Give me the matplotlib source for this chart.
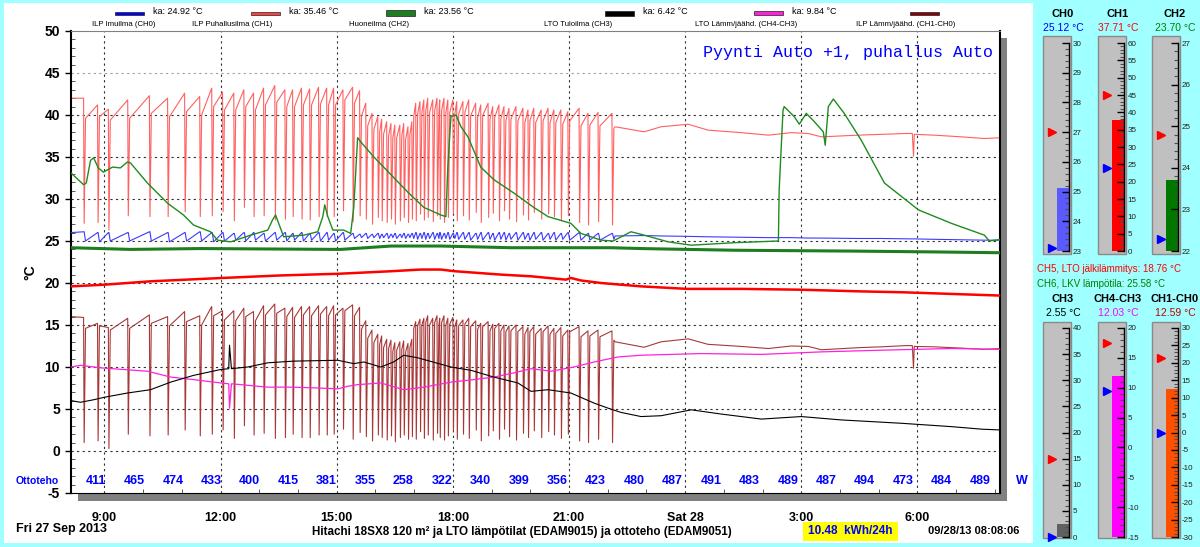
import matplotlib
matplotlib.use("Agg")
import numpy as np
import matplotlib.pyplot as plt
from matplotlib.patches import Rectangle
from matplotlib.ticker import MultipleLocator

plt.rcParams['font.family'] = ['Liberation Sans', 'DejaVu Sans']
plt.rcParams['axes.unicode_minus'] = False

# ---------------- data (hours of day, 24 = midnight) ----------------
T0, T1 = 8.135, 32.135

# compressor cycles of the heat pump: time of each drop, CH1 level before drop,
# CH1 bottom, CH1 level after the fast recovery, CH0 high / low around the drop
drop_t = [8.46, 8.82, 9.10, 9.60, 10.16, 10.63, 11.07, 11.46, 11.77, 12.05, 12.34, 12.60,
          12.85, 13.11, 13.40, 13.66, 13.86, 14.09, 14.30, 14.53, 14.74, 14.92, 15.16,
          15.41, 15.59, 15.75, 15.91, 16.06, 16.16, 16.29, 16.40, 16.50, 16.63, 16.73, 16.84,
          16.94, 17.04, 17.15, 17.25, 17.35, 17.48, 17.59, 17.66, 17.77, 17.87, 18.00, 18.10,
          18.26, 18.41, 18.59, 18.72, 18.91, 19.03, 19.19, 19.32, 19.45, 19.63, 19.81, 19.94,
          20.09, 20.28, 20.46, 20.61, 20.79, 20.97, 21.26, 21.49, 21.75, 22.11]
ch1_pk = [42.0, 41.2, 40.7, 41.8, 42.3, 42.0, 42.6, 42.2, 43.2, 42.7, 42.6, 43.0,
          42.6, 43.2, 43.5, 43.0, 43.0, 43.2, 43.1, 43.3, 43.2, 43.2, 43.0,
          43.3, 42.9, 41.4, 40.2, 39.8, 39.5, 39.2, 39.0, 38.8, 38.8, 39.0, 38.6,
          39.2, 41.4, 41.6, 41.8, 42.0, 41.8, 42.0, 41.8, 42.0, 41.8, 41.8, 41.6,
          41.6, 41.8, 41.4, 41.2, 41.4, 41.0, 41.2, 41.0, 40.8, 41.0, 40.8, 40.6,
          40.8, 40.6, 40.8, 40.6, 40.6, 40.4, 40.8, 40.2, 40.3, 40.2]
ch1_lo = [27.1, 27.2, 26.3, 28.0, 27.9, 27.9, 28.5, 27.9, 28.0, 28.5, 27.4, 29.0,
          27.9, 28.0, 27.5, 27.6, 27.9, 27.6, 27.5, 27.9, 27.9, 27.9, 28.6,
          27.3, 28.0, 27.6, 27.0, 27.8, 27.4, 27.2, 27.6, 27.0, 27.4, 27.8, 27.2,
          27.6, 27.4, 28.2, 27.5, 27.8, 27.3, 28.0, 27.6, 27.2, 27.8, 28.3, 27.4,
          28.0, 27.5, 28.4, 27.2, 27.8, 28.3, 27.4, 28.6, 27.6, 27.3, 28.1, 27.5,
          28.4, 27.6, 28.2, 27.9, 27.4, 28.0, 27.2, 26.9, 27.3, 26.9]
ch1_rec = [39.6, 39.8, 39.4, 39.6, 40.2, 39.8, 40.4, 40.0, 41.0, 40.6, 40.6, 41.0,
           40.6, 41.2, 41.5, 41.0, 41.0, 41.2, 41.2, 41.3, 41.2, 41.2, 41.8,
           41.4, 39.9, 38.7, 38.3, 38.0, 37.7, 37.5, 37.3, 37.3, 37.5, 37.1, 37.7,
           39.9, 40.1, 40.3, 40.5, 40.3, 40.5, 40.3, 40.5, 40.3, 40.3, 40.1, 40.1,
           40.3, 39.9, 39.7, 39.9, 39.5, 39.7, 39.5, 39.3, 39.5, 39.3, 39.1, 39.3,
           39.1, 39.3, 39.1, 39.1, 38.9, 39.3, 38.7, 38.8, 38.7, 38.4]
ch0_hi = [26.1, 26.0, 26.0, 26.0, 26.1, 26.0, 26.0, 26.1, 26.0, 26.0, 25.9, 26.0,
          26.0, 25.9, 26.0, 26.0, 25.9, 26.0, 25.9, 26.0, 26.0, 25.9, 26.0,
          25.9, 25.8, 25.9, 25.8, 25.9, 25.8, 25.9, 25.8, 25.9, 25.8, 25.9, 25.8,
          25.9, 26.0, 25.9, 26.0, 25.9, 26.0, 25.9, 26.0, 25.9, 26.0, 25.9, 26.0,
          26.0, 26.0, 25.9, 26.0, 26.0, 25.9, 26.0, 26.0, 25.9, 26.0, 26.0, 25.9,
          26.0, 26.0, 25.9, 26.0, 25.9, 26.0, 26.0, 25.9, 25.9, 25.9]
ch0_lo = [25.0, 24.9, 25.0, 25.0, 25.0, 24.9, 25.0, 25.0, 24.9, 25.0, 25.1, 25.0,
          25.1, 25.0, 25.1, 25.0, 25.1, 25.0, 25.1, 25.0, 25.1, 25.0, 25.1,
          25.3, 25.4, 25.3, 25.4, 25.3, 25.4, 25.3, 25.4, 25.3, 25.4, 25.3, 25.4,
          25.3, 25.2, 25.3, 25.2, 25.3, 25.2, 25.3, 25.2, 25.3, 25.2, 25.3, 25.2,
          25.2, 25.1, 25.2, 25.1, 25.2, 25.1, 25.2, 25.1, 25.2, 25.1, 25.2, 25.1,
          25.2, 25.1, 25.2, 25.1, 25.2, 25.1, 25.1, 25.1, 25.1, 25.2]
ch1_start, ch0_start = 42.0, 26.0

# steady running after ~22:10
steady_t = [22.19, 22.94, 23.38, 24.08, 24.59, 25.45, 26.15, 26.74, 27.18, 27.52,
            28.47, 29.07, 29.72, 29.87, 29.90, 29.92, 30.44, 31.14, 31.73, 32.17]
ch1_steady = [38.6, 38.0, 38.6, 38.9, 38.2, 37.9, 37.6, 37.9, 37.8, 37.4,
              37.6, 37.7, 37.8, 37.8, 35.1, 37.7, 37.6, 37.4, 37.2, 37.3]
ch0_steady = [25.6, 25.65, 25.6, 25.55, 25.5, 25.45, 25.4, 25.4, 25.35, 25.35,
              25.3, 25.3, 25.25, 25.25, 25.25, 25.25, 25.2, 25.15, 25.1, 25.1]

# CH6 LKV lampotila (thin green)
ch6_t = [8.135, 8.46, 8.53, 8.64, 8.72, 8.84, 8.97, 9.21, 9.41, 9.59, 9.67, 10.11, 10.63,
         11.04, 11.30, 11.74, 11.92, 12.26, 12.78, 13.22, 13.34, 13.42, 13.50, 13.63, 14.15,
         14.51, 14.64, 14.69, 14.77, 14.90, 15.18, 15.36, 15.44, 15.54, 15.62, 15.96, 16.40,
         16.84, 17.25, 17.69, 17.82, 17.87, 17.95, 18.08, 18.21, 18.39, 18.72, 19.06, 19.58,
         20.09, 20.46, 21.05, 21.31, 21.83, 22.14, 22.60, 22.94, 23.56, 24.16, 25.27, 26.41,
         26.43, 26.53, 26.56, 26.82, 26.95, 27.13, 27.34, 27.57, 27.62, 27.70, 27.83, 28.11,
         28.55, 29.15, 30.03, 30.88, 31.73, 31.86, 32.17]
ch6_v = [33.1, 31.7, 31.9, 34.6, 34.9, 33.7, 33.2, 33.8, 33.7, 34.4, 34.3, 31.9, 29.5,
         28.1, 26.9, 26.1, 25.1, 24.9, 25.7, 26.3, 27.5, 28.1, 27.1, 25.5, 25.7,
         26.1, 27.9, 29.3, 27.9, 26.3, 26.3, 25.9, 29.0, 37.3, 36.8, 35.0, 32.9,
         30.8, 29.0, 28.1, 27.9, 33.8, 39.8, 40.0, 38.6, 37.4, 33.8, 32.3, 30.7,
         29.0, 27.9, 27.1, 25.9, 25.1, 25.0, 26.1, 25.7, 24.9, 24.5, 24.8, 25.0,
         31.1, 40.6, 41.0, 39.8, 38.9, 40.2, 39.2, 38.0, 36.4, 41.0, 41.9, 40.2,
         37.0, 31.9, 28.7, 27.1, 25.7, 25.0, 25.2]

# CH2 Huoneilma (thick green)
ch2_t = [8.135, 9.67, 11.48, 15.10, 16.40, 17.69, 19.50, 22.09, 22.86, 25.27, 28.29, 30.44, 32.17]
ch2_v = [24.2, 24.0, 24.1, 24.0, 24.4, 24.4, 24.2, 24.2, 24.1, 23.9, 23.8, 23.7, 23.6]

# CH5 LTO jalkilammitys (thick red)
ch5_t = [8.135, 9.0, 10.19, 12.05, 13.55, 15.05, 16.40, 17.17, 17.69, 18.05, 19.24, 20.02,
         20.92, 21.05, 21.31, 21.83, 22.86, 24.05, 25.45, 27.0, 28.55, 29.59, 30.88, 32.17]
ch5_v = [19.6, 19.8, 20.2, 20.6, 20.9, 21.1, 21.4, 21.6, 21.6, 21.4, 21.0, 20.8,
         20.4, 20.6, 20.3, 20.0, 19.6, 19.3, 19.3, 19.2, 19.0, 18.9, 18.7, 18.5]

# CH3 LTO Tuloilma (black)
ch3_t = [8.135, 8.38, 8.72, 9.0, 9.59, 10.19, 10.71, 11.30, 12.0, 12.21, 12.23, 12.28,
         12.70, 13.22, 13.89, 15.03, 15.44, 15.70, 16.14, 16.47, 16.73, 17.09, 17.95,
         18.47, 19.06, 19.68, 20.02, 20.46, 21.05, 21.65, 22.01, 22.34, 22.86, 23.38,
         24.16, 24.93, 25.97, 27.0, 28.03, 29.59, 30.88, 31.66, 32.17]
ch3_v = [6.0, 5.8, 6.1, 6.4, 6.9, 7.3, 8.2, 9.0, 9.7, 9.8, 12.6, 9.8,
         10.0, 10.5, 10.7, 10.8, 10.4, 10.6, 10.0, 10.6, 11.4, 11.1, 10.0,
         9.6, 8.8, 8.1, 7.1, 7.3, 6.9, 5.7, 5.1, 4.6, 4.1, 4.2,
         4.9, 4.4, 3.8, 4.1, 3.7, 3.3, 2.9, 2.6, 2.5]

# CH4-CH3 LTO Lamm/jaahd. (magenta)
mag_t = [8.135, 8.38, 8.90, 10.11, 10.71, 11.30, 12.0, 12.21, 12.23, 12.28, 12.52, 13.22,
         13.89, 14.51, 15.03, 15.28, 15.54, 16.14, 16.73, 17.25, 17.95, 18.54, 19.06,
         19.58, 20.02, 20.54, 21.13, 21.65, 22.27, 22.86, 24.41, 25.97, 27.52, 29.07,
         30.88, 32.17]
mag_v = [10.0, 10.2, 9.9, 9.5, 8.8, 8.5, 8.1, 8.0, 5.1, 8.0, 7.9, 7.6,
         7.6, 7.5, 7.4, 7.7, 7.9, 8.1, 7.3, 7.6, 8.2, 8.5, 8.8,
         9.3, 9.8, 9.5, 10.0, 10.6, 11.2, 11.4, 11.6, 11.5, 11.8, 12.0,
         12.2, 12.1]

ottoteho = [411, 465, 474, 433, 400, 415, 381, 355, 258, 322, 340, 399,
            356, 423, 480, 487, 491, 483, 489, 487, 494, 473, 484, 489]

hour_major = [9, 12, 15, 18, 21, 24, 27, 30]
hour_labels = ["9:00", "12:00", "15:00", "18:00", "21:00", "Sat 28", "3:00", "6:00"]

legend_names = ["ILP Imuilma (CH0)", "ILP Puhallusilma (CH1)", "Huoneilma (CH2)",
                "LTO Tuloilma (CH3)", "LTO Lämm/jäähd. (CH4-CH3)", "ILP Lämm/jäähd. (CH1-CH0)"]
legend_ka = ["ka: 24.92 °C", "ka: 35.46 °C", "ka: 23.56 °C", "ka: 6.42 °C", "ka: 9.84 °C", ""]

gauge_names = ["CH0", "CH1", "CH2", "CH3", "CH4-CH3", "CH1-CH0"]
gauge_vals = [25.12, 37.71, 23.70, 2.55, 12.03, 12.59]
gauge_lo = [23, 0, 22, 0, -15, -30]
gauge_hi = [30, 60, 27, 40, 20, 30]
gauge_step = [1, 5, 1, 5, 5, 5]
gauge_minor = [0.2, 1, 0.2, 1, 1, 1]
gauge_red = [27.0, 45.0, 24.8, 15.0, 17.5, 21.5]
gauge_blue = [23.1, 24.0, 22.3, 0.0, 9.5, 0.0]

# ---------------- build CH1 / CH0 traces ----------------
t_all, c1, c0 = [T0], [ch1_start], [ch0_start]
for i, t in enumerate(drop_t):
    t_all += [t, t + 0.015, t + 0.05]
    c1 += [ch1_pk[i], ch1_lo[i], ch1_rec[i]]
    c0 += [ch0_hi[i], ch0_hi[i], ch0_lo[i]]
t_all += steady_t
c1 += ch1_steady
c0 += ch0_steady
t_all, c1, c0 = np.array(t_all), np.array(c1), np.array(c0)

# ---------------- figure ----------------
W, H = 1200, 547
fig = plt.figure(figsize=(W / 100, H / 100), dpi=100)
fig.patch.set_facecolor('#a0ffff')


def fx(x):
    return x / W


def fy(y):
    return 1 - y / H


def box(x0, y0, x1, y1, **kw):
    fig.add_artist(Rectangle((fx(x0), fy(y1)), (x1 - x0) / W, (y1 - y0) / H,
                             transform=fig.transFigure, **kw))


def txt(x, y, s, **kw):
    kw.setdefault('va', 'center')
    fig.text(fx(x), fy(y), s, **kw)


box(4, 3, 1033, 543, fc='white', ec='none', zorder=-3)
box(78, 38, 1007, 501, fc='#808080', ec='none', zorder=-2)

ax = fig.add_axes([fx(71), fy(493), 929 / W, 462 / H])
ax.set_xlim(T0, T1)
ax.set_ylim(-5, 50)

for v in range(0, 50, 5):
    ax.axhline(v, color='#a0a0a0' if v == 45 else '#303030', lw=0.8, ls=(0, (2, 3)), zorder=1)
for h in hour_major:
    ax.axvline(h, color='#303030', lw=0.8, ls=(0, (2, 3)), zorder=1)

ax.plot(t_all, c1, color='#ff6060', lw=0.8, zorder=2)
ax.plot(t_all, c1 - c0, color='#a83838', lw=0.8, zorder=2)
ax.plot(t_all, c0, color='#3a3aff', lw=0.8, zorder=3)
ax.plot(ch6_t, ch6_v, color='#1e8c1e', lw=1.0, zorder=3)
ax.plot(ch2_t, ch2_v, color='#1e7d1e', lw=2.2, zorder=3)
ax.plot(ch5_t, ch5_v, color='#ff0000', lw=1.8, zorder=3)
ax.plot(mag_t, mag_v, color='#ff22dd', lw=0.9, zorder=3)
ax.plot(ch3_t, ch3_v, color='black', lw=0.8, zorder=3)

ax.set_yticks(range(-5, 51, 5))
ax.yaxis.set_minor_locator(MultipleLocator(1))
ax.tick_params(axis='y', which='major', length=4, width=1, pad=4, labelsize=10)
ax.tick_params(axis='y', which='minor', direction='in', length=3, color='#404040')
for lab in ax.get_yticklabels():
    lab.set_fontweight('bold')
ax.set_xticks(hour_major)
ax.set_xticklabels(hour_labels, fontweight='bold', fontsize=9)
ax.xaxis.set_minor_locator(MultipleLocator(1))
ax.tick_params(axis='x', which='major', length=0, pad=14)
ax.tick_params(axis='x', which='minor', direction='in', length=3, color='#404040')
ax.spines['top'].set_color('#808080')
ax.spines['left'].set_linewidth(1.5)
ax.spines['right'].set_linewidth(1.5)

for i, v in enumerate(ottoteho):
    ax.text(8.78 + 0.993 * i, -3.55, str(v), ha='center', va='center',
            color='#0000ff', fontweight='bold', fontsize=9, zorder=5)

txt(16, 481, "Ottoteho", color='#0000ff', fontweight='bold', fontsize=7.5)
txt(1016, 481, "W", color='#0000ff', fontweight='bold', fontsize=9)
txt(30, 272, "°C", rotation=90, ha='center', fontweight='bold', fontsize=10)
txt(703, 52, "Pyynti Auto +1, puhallus Auto", family='Liberation Mono',
    color='#0000ff', fontsize=12)

txt(16, 529, "Fri 27 Sep 2013", fontweight='bold', fontsize=9)
txt(522, 532, "Hitachi 18SX8 120 m² ja LTO lämpötilat (EDAM9015) ja ottoteho (EDAM9051)",
    ha='center', fontweight='bold', fontsize=8.4)
box(803, 522, 898, 541, fc='#ffff00', ec='none', zorder=1)
txt(850, 531, "10.48  kWh/24h", ha='center', color='#0000ff', fontweight='bold', fontsize=8.5)
txt(974, 531, "09/28/13 08:08:06", ha='center', fontweight='bold', fontsize=8)

# ---------------- top legend ----------------
name_x = [124, 232, 379, 578, 746, 906]
sw_x = [115, 251, 386, 605, 754, 910]
sw_h = [3, 3, 6, 5, 4, 3]
sw_col = ['#0000ff', '#ff4040', '#1e7d1e', '#000000', '#ff22dd', '#8b0000']
for i in range(6):
    box(sw_x[i], 13 - sw_h[i] / 2, sw_x[i] + 29, 13 + sw_h[i] / 2,
        fc=sw_col[i], ec='#202020', lw=0.5, zorder=2)
    txt(sw_x[i] + 38, 12, legend_ka[i], fontsize=6.5)
    txt(name_x[i], 25, legend_names[i], ha='center', fontsize=5.6)

# ---------------- gauges ----------------
gx = [1043, 1098, 1152, 1043, 1098, 1152]
title_x = [1063, 1118, 1175, 1063, 1118, 1175]
fill_col = ['#5a5aff', '#ff0000', '#007800', '#606060', '#ff00ff', '#ff5000']
val_col = ['#0000ff', '#ff0000', '#008000', '#000000', '#ff00ff', '#c00000']
rows = [dict(title=14, value=28, btop=36, bbot=254, stop=43, sbot=251),
        dict(title=299, value=313, btop=322, bbot=538, stop=328, sbot=537)]

for i in range(6):
    r = rows[i // 3]
    x0 = gx[i]
    txt(title_x[i], r['title'], gauge_names[i], ha='center', fontweight='bold', fontsize=8)
    txt(title_x[i], r['value'], "%.2f °C" % gauge_vals[i], ha='center',
        color=val_col[i], fontsize=7.5)
    box(x0, r['btop'], x0 + 28, r['bbot'], fc='#c0c0c0', ec='#8a8a8a', lw=1, zorder=-1)
    g = fig.add_axes([fx(x0), fy(r['sbot']), 28 / W, (r['sbot'] - r['stop']) / H])
    g.set_xlim(0, 28)
    g.set_ylim(gauge_lo[i], gauge_hi[i])
    g.patch.set_alpha(0)
    for s in ['left', 'top', 'bottom']:
        g.spines[s].set_visible(False)
    g.spines['right'].set_position(('data', 26))
    g.spines['right'].set_linewidth(1)
    g.set_xticks([])
    g.yaxis.tick_right()
    g.set_yticks(np.arange(gauge_lo[i], gauge_hi[i] + 0.1, gauge_step[i]))
    g.yaxis.set_minor_locator(MultipleLocator(gauge_minor[i]))
    g.tick_params(axis='y', which='major', direction='in', length=5, width=1,
                  pad=2.5, labelsize=5.8, labelcolor='#202020')
    g.tick_params(axis='y', which='minor', direction='in', length=3, width=0.8,
                  color='#505050')
    g.bar(20, gauge_vals[i] - gauge_lo[i], bottom=gauge_lo[i], width=12,
          color=fill_col[i], zorder=1)
    g.plot(9, gauge_red[i], marker='>', color='#ff0000', ms=5.5, clip_on=False, zorder=4)
    g.plot(9, gauge_blue[i], marker='>', color='#0000ff', ms=5.5, clip_on=False, zorder=4)

txt(1037, 269, "CH5, LTO jälkilämmitys: 18.76 °C", color='#ff0000', fontsize=7)
txt(1037, 284, "CH6, LKV lämpötila: 25.58 °C", color='#008000', fontsize=7)

fig.savefig("out.png", dpi=100, facecolor=fig.get_facecolor())
